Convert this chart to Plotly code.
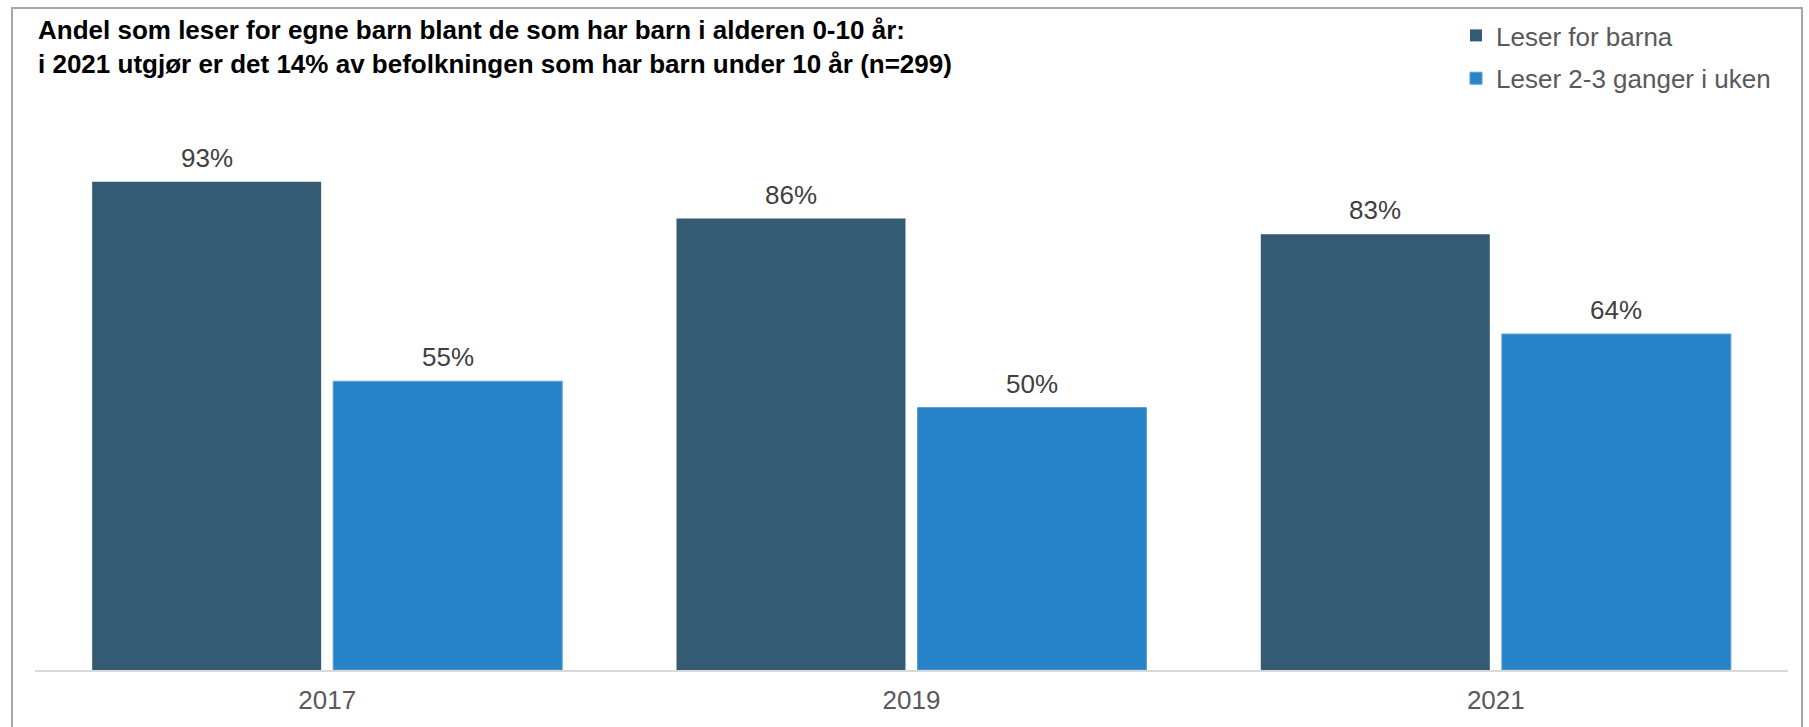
import plotly.graph_objects as go

years = ["2017", "2019", "2021"]
leser_for_barna = [93, 86, 83]
leser_2_3_ganger = [55, 50, 64]
series_names = ["Leser for barna", "Leser 2-3 ganger i uken"]
title_lines = [
    "Andel som leser for egne barn blant de som har barn i alderen 0-10 år:",
    "i 2021 utgjør er det 14% av befolkningen som har barn under 10 år (n=299)",
]

FONT = "Arial, 'Liberation Sans', sans-serif"
W, H = 1809, 727
ML, MR, MT, MB = 35, 21, 145, 57
BARGAP = 0.175
BARGROUPGAP = 0.05

fig = go.Figure()
fig.add_trace(go.Bar(
    x=years, y=leser_for_barna, name=series_names[0], legendgroup="a",
    marker=dict(color="#345B74", line=dict(width=0)),
))
fig.add_trace(go.Bar(
    x=years, y=leser_2_3_ganger, name=series_names[1], legendgroup="b",
    marker=dict(color="#2783C7", line=dict(width=1, color="#5A9FD8")),
))

# value labels above bars, centred on each bar's slot
slot = (1 - BARGAP) / 2
for k, series in enumerate([leser_for_barna, leser_2_3_ganger]):
    off = (k - 0.5) * slot
    for i, v in enumerate(series):
        fig.add_annotation(
            x=i + off, y=v, xref="x", yref="y", text=f"{v}%",
            showarrow=False, yanchor="bottom", xanchor="center", yshift=7,
            font=dict(family=FONT, size=26, color="#404040"),
        )

pw = W - ML - MR
ph = H - MT - MB
def px_to_paper_x(px):
    return (px - ML) / pw
def px_to_paper_y(py):
    return (H - MB - py) / ph

# outer frame
fig.add_shape(type="path", xref="paper", yref="paper",
              path=(f"M {px_to_paper_x(12)} {px_to_paper_y(740)} "
                    f"L {px_to_paper_x(12)} {px_to_paper_y(8)} "
                    f"L {px_to_paper_x(1802)} {px_to_paper_y(8)} "
                    f"L {px_to_paper_x(1802)} {px_to_paper_y(740)}"),
              line=dict(color="#A6A6A6", width=2))

fig.update_layout(
    width=W, height=H,
    margin=dict(l=ML, r=MR, t=MT, b=MB, autoexpand=False),
    paper_bgcolor="white", plot_bgcolor="white",
    barmode="group", bargap=BARGAP, bargroupgap=BARGROUPGAP,
    title=dict(
        text="<br>".join(title_lines),
        x=38 / W, xanchor="left", xref="container",
        y=1 - 39 / H, yanchor="top", yref="container",
        font=dict(family=FONT, size=26, color="#000000", weight="bold"),
    ),
    legend=dict(
        x=1456 / W, xanchor="left", xref="container",
        y=1 - 12 / H, yanchor="top", yref="container",
        font=dict(family=FONT, size=26, color="#595959"),
        bgcolor="rgba(0,0,0,0)", tracegroupgap=6, traceorder="grouped",
    ),
    xaxis=dict(
        type="category", range=[-0.5, 2.5],
        showline=True, linecolor="#D9D9D9", linewidth=2,
        showgrid=False, zeroline=False,
        ticks="outside", ticklen=6, tickcolor="rgba(0,0,0,0)",
        tickfont=dict(family=FONT, size=26, color="#595959"),
    ),
    yaxis=dict(
        range=[0, 100], visible=False, showgrid=False, zeroline=False,
    ),
    showlegend=True,
)

fig.write_html("out.html", config={"displayModeBar": False},
               post_script="document.body.style.margin='0px';")
